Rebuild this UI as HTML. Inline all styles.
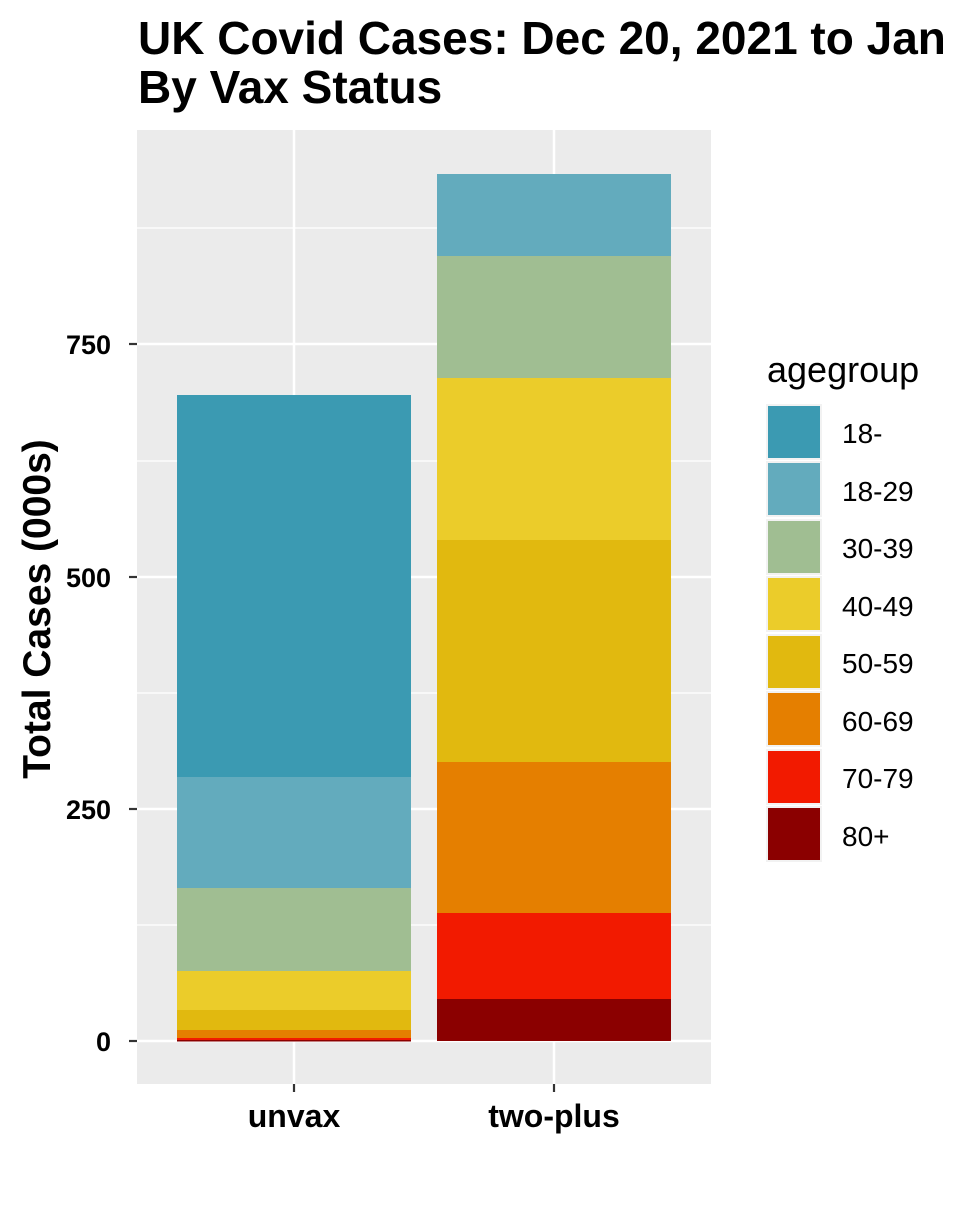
<!DOCTYPE html>
<html><head><style>body{margin:0;background:#fff}</style></head><body>
<svg width="960" height="1200" xmlns="http://www.w3.org/2000/svg" font-family="Liberation Sans, Arial, sans-serif">
<rect x="0" y="0" width="960" height="1200" fill="#fff"/>
<text x="138" y="54" font-size="46" font-weight="bold">UK Covid Cases: Dec 20, 2021 to Jan</text>
<text x="138" y="103" font-size="46" font-weight="bold">By Vax Status</text>
<rect x="137" y="130" width="574" height="954" fill="#ebebeb"/>
<g stroke="#fff" stroke-width="1.2">
<line x1="137" x2="711" y1="228" y2="228"/><line x1="137" x2="711" y1="461" y2="461"/>
<line x1="137" x2="711" y1="693" y2="693"/><line x1="137" x2="711" y1="925" y2="925"/>
</g>
<g stroke="#fff" stroke-width="2.5">
<line x1="137" x2="711" y1="344" y2="344"/><line x1="137" x2="711" y1="577" y2="577"/>
<line x1="137" x2="711" y1="809" y2="809"/><line x1="137" x2="711" y1="1041" y2="1041"/>
<line x1="294" x2="294" y1="130" y2="1084"/><line x1="554" x2="554" y1="130" y2="1084"/>
</g>
<rect x="177" y="395" width="234" height="382" fill="#3b9ab2"/>
<rect x="177" y="777" width="234" height="111" fill="#63abbd"/>
<rect x="177" y="888" width="234" height="83" fill="#a0be92"/>
<rect x="177" y="971" width="234" height="39" fill="#ebcc2a"/>
<rect x="177" y="1010" width="234" height="20" fill="#e1b90f"/>
<rect x="177" y="1030" width="234" height="8" fill="#e57f00"/>
<rect x="177" y="1038" width="234" height="2" fill="#f21a00"/>
<rect x="177" y="1040" width="234" height="1.5" fill="#8b0000"/>
<rect x="437" y="174" width="234" height="82" fill="#63abbd"/>
<rect x="437" y="256" width="234" height="122" fill="#a0be92"/>
<rect x="437" y="378" width="234" height="162" fill="#ebcc2a"/>
<rect x="437" y="540" width="234" height="222" fill="#e1b90f"/>
<rect x="437" y="762" width="234" height="151" fill="#e57f00"/>
<rect x="437" y="913" width="234" height="86" fill="#f21a00"/>
<rect x="437" y="999" width="234" height="42" fill="#8b0000"/>
<g stroke="#333" stroke-width="2.2">
<line x1="129" x2="137" y1="344" y2="344"/><line x1="129" x2="137" y1="577" y2="577"/>
<line x1="129" x2="137" y1="809" y2="809"/><line x1="129" x2="137" y1="1041" y2="1041"/>
<line x1="294" x2="294" y1="1084" y2="1092"/><line x1="554" x2="554" y1="1084" y2="1092"/>
</g>
<g font-size="27" font-weight="bold" text-anchor="end" fill="#000">
<text x="111" y="354">750</text><text x="111" y="587">500</text>
<text x="111" y="819">250</text><text x="111" y="1051">0</text>
</g>
<g font-size="32" font-weight="bold" text-anchor="middle">
<text x="294" y="1127">unvax</text><text x="554" y="1127">two-plus</text>
</g>
<text transform="translate(50,609) rotate(-90)" font-size="39" font-weight="bold" text-anchor="middle">Total Cases (000s)</text>
<text x="767" y="382" font-size="36">agegroup</text>
<g stroke="#f2f2f2" stroke-width="2">
<rect x="767" y="405" width="54" height="54" fill="#3b9ab2"/>
<rect x="767" y="462" width="54" height="54" fill="#63abbd"/>
<rect x="767" y="520" width="54" height="54" fill="#a0be92"/>
<rect x="767" y="577" width="54" height="54" fill="#ebcc2a"/>
<rect x="767" y="635" width="54" height="54" fill="#e1b90f"/>
<rect x="767" y="692" width="54" height="54" fill="#e57f00"/>
<rect x="767" y="750" width="54" height="54" fill="#f21a00"/>
<rect x="767" y="807" width="54" height="54" fill="#8b0000"/>
</g>
<g font-size="28">
<text x="842" y="443">18-</text><text x="842" y="501">18-29</text>
<text x="842" y="558">30-39</text><text x="842" y="616">40-49</text>
<text x="842" y="673">50-59</text><text x="842" y="731">60-69</text>
<text x="842" y="788">70-79</text><text x="842" y="846">80+</text>
</g>
</svg>
</body></html>
